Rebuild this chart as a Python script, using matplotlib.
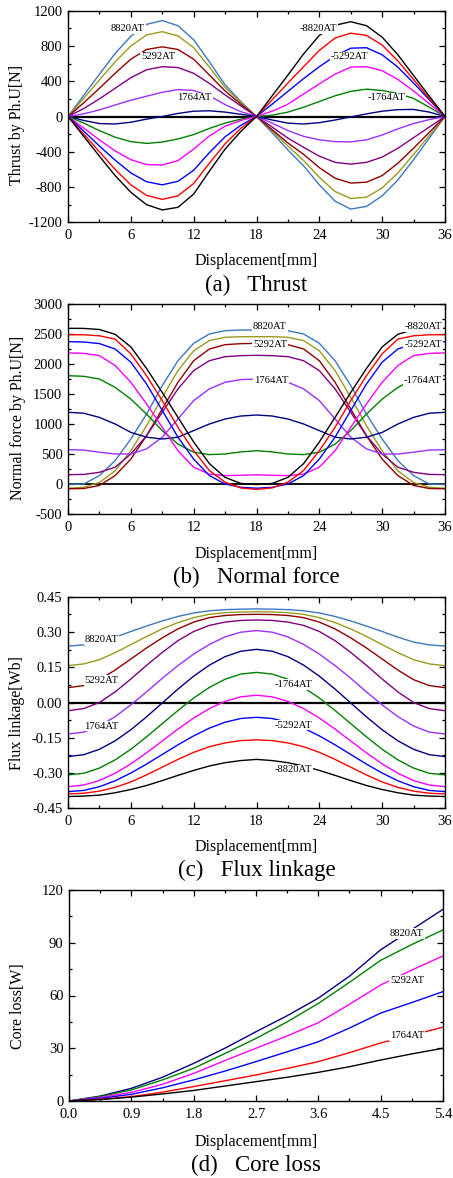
import matplotlib
matplotlib.use('Agg')
import matplotlib.pyplot as plt
from matplotlib.ticker import MultipleLocator, FormatStrFormatter

plt.rcParams['font.family'] = ['Liberation Serif', 'DejaVu Serif']
plt.rcParams['axes.unicode_minus'] = False

W, H = 453, 1178

# ---- datos ----
disp = [0, 1.5, 3, 4.5, 6, 7.5, 9, 10.5, 12, 13.5, 15, 16.5, 18,
        19.5, 21, 22.5, 24, 25.5, 27, 28.5, 30, 31.5, 33, 34.5, 36]

currents = ['8820AT', '7056AT', '5292AT', '3528AT', '1764AT', '0AT',
            '-1764AT', '-3528AT', '-5292AT', '-7056AT', '-8820AT']
colors = ['#3C78BE', '#9A9A1E', '#900000', '#800080', '#9B30FF', '#000080',
          '#008000', '#FF00FF', '#0000FF', '#FF0000', '#000000']

# (a) empuje [N]
thrust_8820 = [0, 240, 480, 715, 910, 1045, 1088, 1030, 870, 620, 360, 170, 0,
               -185, -380, -560, -775, -960, -1050, -1020, -900, -720, -490, -245, 0]
thrust_7056 = [0, 205, 415, 620, 800, 925, 962, 915, 780, 560, 330, 160, 0,
               -165, -335, -500, -690, -850, -930, -915, -810, -640, -430, -215, 0]
thrust_5292 = [0, 155, 320, 490, 650, 760, 790, 760, 650, 470, 290, 140, 0,
               -150, -300, -430, -580, -700, -755, -745, -670, -530, -360, -180, 0]
thrust_3528 = [0, 90, 200, 320, 440, 530, 565, 555, 490, 375, 245, 120, 0,
               -120, -245, -350, -450, -520, -540, -520, -460, -360, -240, -120, 0]
thrust_1764 = [0, 30, 75, 130, 185, 230, 275, 305, 295, 235, 135, 55, 0,
               -75, -160, -225, -265, -285, -288, -265, -210, -140, -80, -35, 0]
thrust_0 = [0, -45, -80, -85, -65, -30, 0, 35, 60, 65, 50, 25, 0,
            -40, -75, -85, -70, -40, -5, 30, 60, 78, 80, 50, 0]
thrust_m1764 = [0, -75, -160, -235, -285, -305, -290, -255, -205, -135, -75, -30, 0,
                15, 50, 105, 170, 235, 285, 310, 295, 260, 205, 105, 0]
thrust_m3528 = [0, -130, -265, -390, -490, -545, -550, -500, -370, -220, -110, -45, 0,
                60, 140, 255, 370, 480, 560, 565, 520, 420, 290, 145, 0]
thrust_m5292 = [0, -165, -335, -495, -640, -740, -775, -735, -610, -410, -230, -100, 0,
                140, 285, 430, 565, 685, 775, 780, 700, 560, 380, 190, 0]
thrust_m7056 = [0, -200, -400, -600, -775, -895, -940, -900, -760, -530, -310, -135, 0,
                190, 380, 565, 750, 890, 945, 920, 810, 630, 420, 205, 0]
thrust_m8820 = [0, -225, -450, -670, -860, -1000, -1060, -1030, -880, -620, -370, -170, 0,
                235, 470, 710, 920, 1035, 1075, 1030, 900, 700, 465, 230, 0]

# (b) fuerza normal [N]
normal_8820 = [0, 5, 145, 395, 755, 1170, 1645, 2060, 2350, 2505, 2560, 2572, 2572,
               2572, 2560, 2505, 2350, 2060, 1645, 1170, 755, 395, 145, 5, 0]
normal_7056 = [-65, -50, 30, 225, 560, 975, 1450, 1895, 2225, 2395, 2450, 2460, 2460,
               2460, 2450, 2395, 2225, 1895, 1450, 975, 560, 225, 30, -50, -65]
normal_5292 = [-75, -70, -20, 145, 420, 810, 1255, 1700, 2060, 2255, 2327, 2344, 2350,
               2344, 2327, 2255, 2060, 1700, 1255, 810, 420, 145, -20, -70, -75]
normal_3528 = [160, 165, 200, 285, 505, 810, 1200, 1590, 1895, 2060, 2127, 2144, 2150,
               2144, 2127, 2060, 1895, 1590, 1200, 810, 505, 285, 200, 165, 160]
normal_1764 = [577, 570, 535, 505, 505, 590, 785, 1090, 1395, 1590, 1700, 1745, 1755,
               1745, 1700, 1590, 1395, 1090, 785, 590, 505, 505, 535, 570, 577]
normal_0 = [1200, 1185, 1115, 1005, 865, 785, 755, 785, 895, 1005, 1088, 1138, 1155,
            1138, 1088, 1005, 895, 785, 755, 785, 865, 1005, 1115, 1185, 1200]
normal_m1764 = [1810, 1800, 1755, 1615, 1420, 1170, 895, 670, 535, 495, 505, 540, 560,
                540, 505, 495, 535, 670, 895, 1170, 1420, 1615, 1755, 1800, 1810]
normal_m3528 = [2190, 2182, 2145, 1980, 1700, 1340, 950, 560, 285, 170, 145, 150, 158,
                150, 145, 170, 285, 560, 950, 1340, 1700, 1980, 2145, 2182, 2190]
normal_m5292 = [2377, 2372, 2345, 2255, 2035, 1672, 1230, 785, 420, 145, 5, -50, -65,
                -50, 5, 145, 420, 785, 1230, 1672, 2035, 2255, 2345, 2372, 2377]
normal_m7056 = [2494, 2492, 2475, 2420, 2175, 1810, 1395, 950, 560, 230, 35, -60, -85,
                -60, 35, 230, 560, 950, 1395, 1810, 2175, 2420, 2475, 2492, 2494]
normal_m8820 = [2600, 2598, 2580, 2500, 2290, 1930, 1530, 1115, 705, 345, 115, 15, -5,
                15, 115, 345, 705, 1115, 1530, 1930, 2290, 2500, 2580, 2598, 2600]

# (c) enlace de flujo [Wb]
flux_8820 = [0.240, 0.245, 0.257, 0.278, 0.302, 0.325, 0.347, 0.366, 0.381, 0.390, 0.395, 0.397, 0.398,
             0.397, 0.395, 0.390, 0.381, 0.366, 0.347, 0.325, 0.302, 0.278, 0.257, 0.245, 0.240]
flux_7056 = [0.157, 0.164, 0.182, 0.212, 0.246, 0.281, 0.313, 0.340, 0.361, 0.375, 0.382, 0.385, 0.386,
             0.385, 0.382, 0.375, 0.361, 0.340, 0.313, 0.281, 0.246, 0.212, 0.182, 0.164, 0.157]
flux_5292 = [0.063, 0.072, 0.097, 0.138, 0.185, 0.232, 0.275, 0.313, 0.342, 0.361, 0.370, 0.374, 0.375,
             0.374, 0.370, 0.361, 0.342, 0.313, 0.275, 0.232, 0.185, 0.138, 0.097, 0.072, 0.063]
flux_3528 = [-0.035, -0.026, 0.000, 0.045, 0.100, 0.158, 0.213, 0.263, 0.302, 0.328, 0.342, 0.349, 0.351,
             0.349, 0.342, 0.328, 0.302, 0.263, 0.213, 0.158, 0.100, 0.045, 0.000, -0.026, -0.035]
flux_1764 = [-0.134, -0.126, -0.100, -0.060, -0.010, 0.045, 0.103, 0.157, 0.206, 0.247, 0.279, 0.299, 0.306,
             0.299, 0.279, 0.247, 0.206, 0.157, 0.103, 0.045, -0.010, -0.060, -0.100, -0.126, -0.134]
flux_0 = [-0.230, -0.222, -0.199, -0.163, -0.116, -0.061, -0.002, 0.057, 0.112, 0.159, 0.195, 0.218, 0.226,
          0.218, 0.195, 0.159, 0.112, 0.057, -0.002, -0.061, -0.116, -0.163, -0.199, -0.222, -0.230]
flux_m1764 = [-0.308, -0.301, -0.279, -0.244, -0.199, -0.146, -0.090, -0.034, 0.019, 0.064, 0.099, 0.121, 0.128,
              0.121, 0.099, 0.064, 0.019, -0.034, -0.090, -0.146, -0.199, -0.244, -0.279, -0.301, -0.308]
flux_m3528 = [-0.358, -0.351, -0.332, -0.301, -0.261, -0.214, -0.164, -0.113, -0.066, -0.026, 0.005, 0.024, 0.031,
              0.024, 0.005, -0.026, -0.066, -0.113, -0.164, -0.214, -0.261, -0.301, -0.332, -0.351, -0.358]
flux_m5292 = [-0.379, -0.374, -0.358, -0.333, -0.300, -0.262, -0.221, -0.180, -0.142, -0.109, -0.084, -0.068, -0.063,
              -0.068, -0.084, -0.109, -0.142, -0.180, -0.221, -0.262, -0.300, -0.333, -0.358, -0.374, -0.379]
flux_m7056 = [-0.389, -0.386, -0.377, -0.361, -0.338, -0.308, -0.275, -0.242, -0.212, -0.188, -0.172, -0.162, -0.159,
              -0.162, -0.172, -0.188, -0.212, -0.242, -0.275, -0.308, -0.338, -0.361, -0.377, -0.386, -0.389]
flux_m8820 = [-0.400, -0.398, -0.394, -0.384, -0.370, -0.353, -0.332, -0.310, -0.289, -0.270, -0.256, -0.247, -0.242,
              -0.247, -0.256, -0.270, -0.289, -0.310, -0.332, -0.353, -0.370, -0.384, -0.394, -0.398, -0.400]

# (d) perdidas en el nucleo [W]
disp_d = [0, 0.45, 0.9, 1.35, 1.8, 2.25, 2.7, 3.15, 3.6, 4.05, 4.5, 4.95, 5.4]
loss_labels = ['8820AT', '7056AT', '5292AT', '3528AT', '1764AT', '0AT']
loss_colors = ['#000080', '#008000', '#FF00FF', '#0000FF', '#FF0000', '#000000']
loss_8820 = [0, 2.8, 7.2, 13.5, 21.4, 30, 39.4, 48.5, 58.5, 71, 86, 97.5, 109]
loss_7056 = [0, 2.5, 6.3, 12, 18.6, 27, 35.6, 45, 55.5, 67.5, 80, 89, 97.3]
loss_5292 = [0, 2, 4.9, 9.5, 15.7, 23, 30, 37, 44.5, 55, 66, 74.5, 82.5]
loss_3528 = [0, 1.5, 3.8, 7.5, 12, 17, 22.4, 28, 33.7, 41.5, 50, 56, 62.2]
loss_1764 = [0, 1, 2.5, 5, 8.2, 11.5, 14.8, 18.5, 22.4, 27.5, 33, 37.5, 42]
loss_0 = [0, 0.8, 2.2, 4, 6, 8.5, 11, 13.5, 16.3, 19.5, 23.3, 26.8, 30]

thrust = [thrust_8820, thrust_7056, thrust_5292, thrust_3528, thrust_1764, thrust_0,
          thrust_m1764, thrust_m3528, thrust_m5292, thrust_m7056, thrust_m8820]
normal = [normal_8820, normal_7056, normal_5292, normal_3528, normal_1764, normal_0,
          normal_m1764, normal_m3528, normal_m5292, normal_m7056, normal_m8820]
flux = [flux_8820, flux_7056, flux_5292, flux_3528, flux_1764, flux_0,
        flux_m1764, flux_m3528, flux_m5292, flux_m7056, flux_m8820]
loss = [loss_8820, loss_7056, loss_5292, loss_3528, loss_1764, loss_0]

fig = plt.figure(figsize=(W / 100, H / 100), dpi=100)


def px_axes(left, top, right, bottom):
    return fig.add_axes([left / W, 1 - bottom / H, (right - left) / W, (bottom - top) / H])


def ftext(x, y, s, **kw):
    fig.text(x / W, 1 - y / H, s, ha='center', va='center', **kw)


def style(ax):
    ax.tick_params(which='both', direction='in', top=True, right=True,
                   labelsize=10.5, width=0.9)
    ax.tick_params(which='major', length=4)
    ax.tick_params(which='minor', length=2.3)
    ax.tick_params(axis='x', pad=5)
    ax.tick_params(axis='y', pad=4)
    for sp in ax.spines.values():
        sp.set_linewidth(1.0)


def tag(ax, x, y, s):
    ax.text(x, y, s, fontsize=7.7, ha='center', va='center', zorder=5,
            bbox=dict(facecolor='white', edgecolor='none', pad=0.6))


# (a) Thrust
ax = px_axes(68, 10.7, 445, 222.3)
for vals, c in zip(thrust, colors):
    ax.plot(disp, vals, color=c, lw=1.0)
ax.axhline(0, color='black', lw=1.6, zorder=1)
ax.set_xlim(0, 36)
ax.set_ylim(-1200, 1200)
ax.xaxis.set_major_locator(MultipleLocator(6))
ax.xaxis.set_minor_locator(MultipleLocator(3))
ax.yaxis.set_major_locator(MultipleLocator(400))
ax.yaxis.set_minor_locator(MultipleLocator(200))
style(ax)
tag(ax, 5.7, 995, '8820AT')
tag(ax, 8.6, 675, '5292AT')
tag(ax, 12.1, 210, '1764AT')
tag(ax, 23.9, 995, '-8820AT')
tag(ax, 26.9, 675, '-5292AT')
tag(ax, 30.4, 210, '-1764AT')
ftext(16.7, 125, 'Thrust by Ph.U[N]', rotation=90, fontsize=11.5)
ftext(256.5, 261, 'Displacement[mm]', fontsize=11.5)
ftext(256.5, 285, '(a)   Thrust', fontsize=16.5)

# (b) Normal force
ax = px_axes(68, 304.3, 445, 514.3)
for vals, c in zip(normal, colors):
    ax.plot(disp, vals, color=c, lw=1.0)
ax.axhline(0, color='black', lw=1.3, zorder=1)
ax.set_xlim(0, 36)
ax.set_ylim(-500, 3000)
ax.xaxis.set_major_locator(MultipleLocator(6))
ax.xaxis.set_minor_locator(MultipleLocator(3))
ax.yaxis.set_major_locator(MultipleLocator(500))
ax.yaxis.set_minor_locator(MultipleLocator(250))
style(ax)
tag(ax, 19.3, 2627, '8820AT')
tag(ax, 19.3, 2322, '5292AT')
tag(ax, 19.4, 1722, '1764AT')
tag(ax, 33.9, 2627, '-8820AT')
tag(ax, 33.9, 2322, '-5292AT')
tag(ax, 33.9, 1738, '-1764AT')
ftext(18, 418, 'Normal force by Ph.U[N]', rotation=90, fontsize=11.5)
ftext(256.5, 554, 'Displacement[mm]', fontsize=11.5)
ftext(256.5, 577, '(b)   Normal force', fontsize=16.5)

# (c) Flux linkage
ax = px_axes(68, 596.7, 445, 808.3)
for vals, c in zip(flux, colors):
    ax.plot(disp, vals, color=c, lw=1.0)
ax.axhline(0, color='black', lw=1.6, zorder=1)
ax.set_xlim(0, 36)
ax.set_ylim(-0.45, 0.45)
ax.xaxis.set_major_locator(MultipleLocator(6))
ax.xaxis.set_minor_locator(MultipleLocator(3))
ax.yaxis.set_major_locator(MultipleLocator(0.15))
ax.yaxis.set_minor_locator(MultipleLocator(0.075))
ax.yaxis.set_major_formatter(FormatStrFormatter('%.2f'))
style(ax)
tag(ax, 3.2, 0.269, '8820AT')
tag(ax, 3.2, 0.093, '5292AT')
tag(ax, 3.2, -0.100, '1764AT')
tag(ax, 21.5, 0.077, '-1764AT')
tag(ax, 21.5, -0.096, '-5292AT')
tag(ax, 21.5, -0.287, '-8820AT')
ftext(16.7, 713, 'Flux linkage[Wb]', rotation=90, fontsize=11.5)
ftext(256.5, 847, 'Displacement[mm]', fontsize=11.5)
ftext(256.5, 870, '(c)   Flux linkage', fontsize=16.5)

# (d) Core loss
ax = px_axes(69, 890, 443, 1101)
for vals, c in zip(loss, loss_colors):
    ax.plot(disp_d, vals, color=c, lw=1.0)
ax.set_xlim(0, 5.4)
ax.set_ylim(0, 120)
ax.xaxis.set_major_locator(MultipleLocator(0.9))
ax.xaxis.set_minor_locator(MultipleLocator(0.45))
ax.xaxis.set_major_formatter(FormatStrFormatter('%.1f'))
ax.yaxis.set_major_locator(MultipleLocator(30))
ax.yaxis.set_minor_locator(MultipleLocator(15))
style(ax)
tag(ax, 4.88, 95.4, '8820AT')
tag(ax, 4.88, 68.8, '5292AT')
tag(ax, 4.88, 37.0, '1764AT')
ftext(18, 1006, 'Core loss[W]', rotation=90, fontsize=11.5)
ftext(256, 1142, 'Displacement[mm]', fontsize=11.5)
ftext(256, 1165, '(d)   Core loss', fontsize=16.5)

fig.savefig('out.png', dpi=100)
